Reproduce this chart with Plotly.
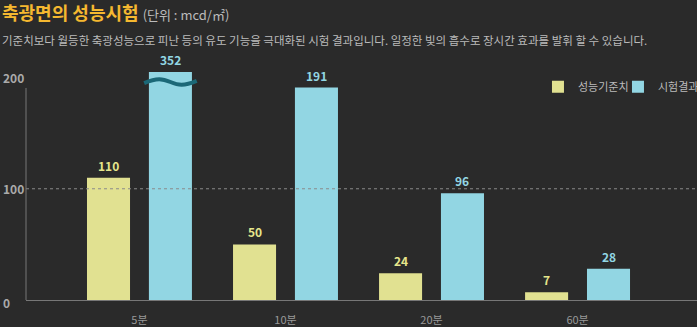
import plotly.graph_objects as go

categories = ["5분", "10분", "20분", "60분"]
standard = [110, 50, 24, 7]
result = [352, 191, 96, 28]
y_ticks = [0, 100, 200]
series_names = ["성능기준치", "시험결과"]

YMAX = 205
BG = "#2a2a2a"
YELLOW = "#e1e191"
BLUE = "#92d6e3"
FONT = "Noto Sans CJK KR"

xs = list(range(len(categories)))

fig = go.Figure()
fig.add_trace(go.Bar(x=xs, y=standard, name=series_names[0], marker_color=YELLOW,
                     marker_line_width=0))
fig.add_trace(go.Bar(x=xs, y=result, name=series_names[1], marker_color=BLUE,
                     marker_line_width=0))

# value labels
for vals, col, sgn in [(standard, "#e6e68c", -1), (result, BLUE, 1)]:
    for i, v in enumerate(vals):
        fig.add_annotation(x=i + sgn * 0.212, y=min(v, YMAX), text=f"<b>{v}</b>",
                           showarrow=False, yanchor="bottom", yshift=2,
                           font=dict(family=FONT, size=12, color=col))

# y tick labels (left aligned)
for t in y_ticks:
    fig.add_annotation(xref="paper", x=-0.037, y=t, text=f"<b>{t}</b>", showarrow=False,
                       xanchor="left", yanchor="middle", yshift=-2 if t == 0 else 0,
                       font=dict(family=FONT, size=12, color="#aaaaaa"))

# dotted reference line at 100
fig.add_shape(type="line", xref="paper", x0=0, x1=1, y0=y_ticks[1], y1=y_ticks[1],
              line=dict(color="#8a8a8a", width=1, dash="dot"))
# y axis line
fig.add_shape(type="line", xref="paper", yref="paper", x0=0, x1=0, y0=0, y1=0.93,
              line=dict(color="#777777", width=1))

# broken-bar wave on the clipped bar
i_break = result.index(max(result))
cx = i_break + 0.212
half = 0.18
yw = 196
path = (f"M {cx-half},{yw-1} "
        f"C {cx-half*0.5},{yw+4} {cx-half*0.3},{yw+3} {cx},{yw} "
        f"S {cx+half*0.5},{yw-4} {cx+half},{yw+1}")
fig.add_shape(type="path", path=path, xref="x", yref="y",
              line=dict(color="#1b6877", width=4))

fig.add_annotation(xref="paper", yref="paper", x=-0.0388, y=1.263, xanchor="left", yanchor="middle",
                   text="<b>축광면의 성능시험</b> <span style='font-size:13px;color:#bbbbbb'>(단위 : mcd/㎡)</span>",
                   showarrow=False, font=dict(family=FONT, size=18, color="#f5b830"))
fig.add_annotation(xref="paper", yref="paper", x=-0.0388, y=1.140, xanchor="left", yanchor="middle",
                   text="기준치보다 월등한 축광성능으로 피난 등의 유도 기능을 극대화된 시험 결과입니다. 일정한 빛의 흡수로 장시간 효과를 발휘 할 수 있습니다.",
                   showarrow=False, font=dict(family=FONT, size=11.5, color="#bbbbbb"))

fig.update_layout(
    width=697, height=327,
    paper_bgcolor=BG, plot_bgcolor=BG,
    margin=dict(l=26, r=0, t=72, b=27, autoexpand=False),
    barmode="group", bargap=0.152, bargroupgap=0.305,
    showlegend=True,
    legend=dict(orientation="h", x=0.763, y=0.935, xanchor="left", yanchor="middle",
                font=dict(family=FONT, size=11, color="#bbbbbb"),
                bgcolor="rgba(0,0,0,0)", traceorder="normal",
                entrywidth=35, entrywidthmode="pixels", itemwidth=30),
    xaxis=dict(range=[-0.777, 3.818], tickvals=xs, ticktext=categories,
               showgrid=False, zeroline=False, showline=True, linecolor="#777777",
               tickfont=dict(family=FONT, size=11, color="#999999"), ticks="",
               ticklabelstandoff=10),
    yaxis=dict(range=[0, YMAX], showgrid=False, zeroline=False, showline=False,
               showticklabels=False, ticks=""),
)

fig.write_html("out.html")
